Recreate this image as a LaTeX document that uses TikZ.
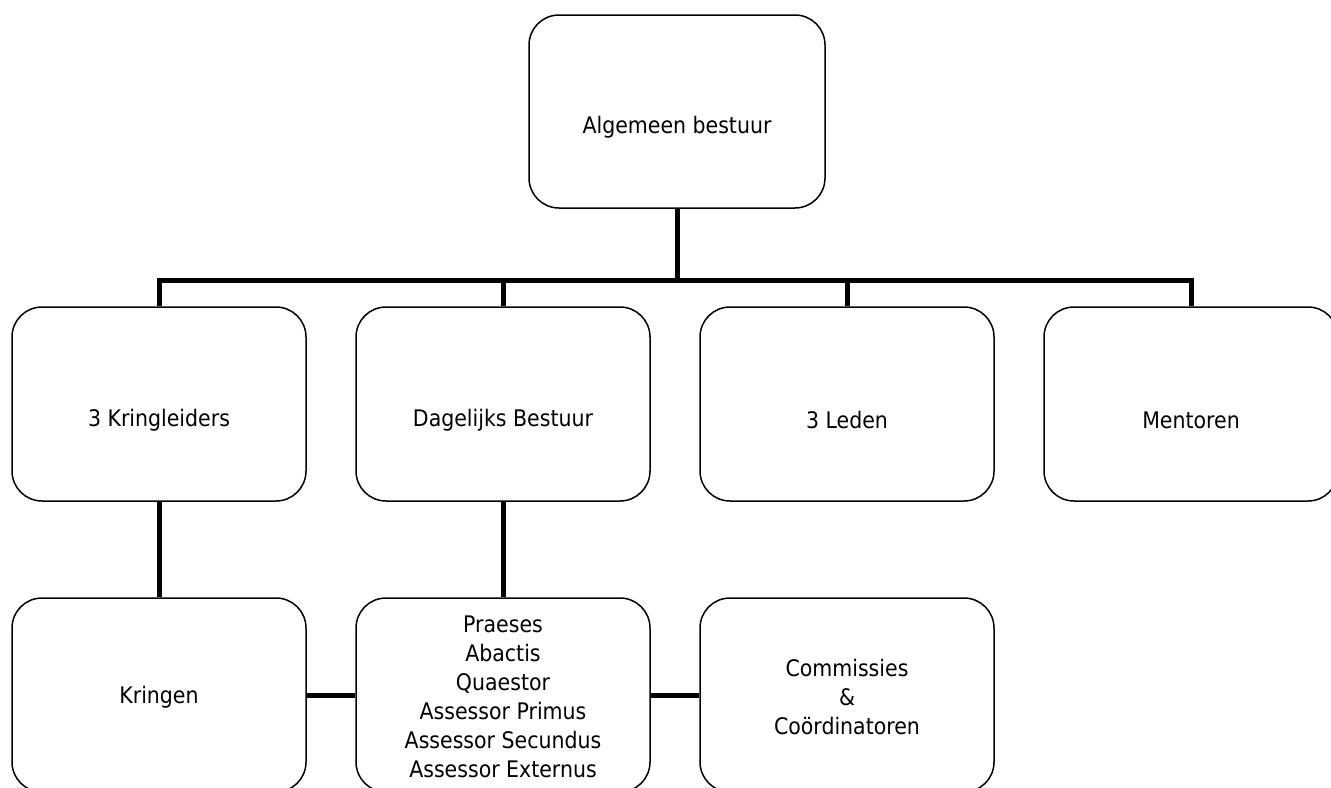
\documentclass[tikz,border=0pt]{standalone}
\usepackage{fontspec}
\setmainfont{DejaVu Sans Condensed}
\usetikzlibrary{positioning}

\begin{document}
\begin{tikzpicture}[x=1pt, y=1pt, node distance = 172pt]
        \tikzstyle{box}=[draw, rounded corners=15pt, line width=0.75pt, minimum width=147pt, minimum height=97pt]
        \tikzstyle{txt}=[align=center, font=\fontsize{11.4}{14.5}\selectfont]
        \tikzstyle{conn}=[line width=2.5pt]

        \useasboundingbox (0,0) rectangle (665.5,-393.5);

        % boxes
        \node (ab) [box, minimum width=148pt, minimum height=96.5pt] at (338.5,-55.75) {};
        \node (kl) [box] at (79.5,-202) {};
        \node (db) [box, right of = kl] {};
        \node (ld) [box, right of = db] {};
        \node (mt) [box, right of = ld] {};
        \node (kr) [box, below of = kl, node distance = 145.5pt] {};
        \node (of) [box, right of = kr] {};
        \node (cc) [box, right of = of] {};

        % texts
        \node (ab-t) [txt] at ([yshift=-8pt]ab.center) {Algemeen bestuur};
        \node (kl-t) [txt] at ([yshift=-8pt]kl.center) {3 Kringleiders};
        \node (db-t) [txt] at ([yshift=-8pt]db.center) {Dagelijks Bestuur};
        \node (ld-t) [txt] at ([yshift=-8pt]ld.center) {3 Leden};
        \node (mt-t) [txt] at ([yshift=-8pt]mt.center) {Mentoren};
        \node (kr-t) [txt] at ([yshift=-1pt]kr.center) {Kringen};
        \node (of-t) [txt] at ([yshift=-1pt]of.center) {Praeses\\Abactis\\Quaestor\\Assessor Primus\\Assessor Secundus\\Assessor Externus};
        \node (cc-t) [txt] at ([yshift=-1pt]cc.center) {Commissies\\\&\\Coördinatoren};

        % connectors
        \coordinate (bar) at (0,-140);
        \draw[conn]
            (ab.south) -- (ab.south |- bar)
            (kl.north) |- (mt.north |- bar) -- (mt.north)
            (db.north) -- (db.north |- bar)
            (ld.north) -- (ld.north |- bar)
            (kl.south) -- (kr.north)
            (db.south) -- (of.north)
            (kr.east) -- (of.west)
            (of.east) -- (cc.west)
        ;
\end{tikzpicture}
\end{document}
